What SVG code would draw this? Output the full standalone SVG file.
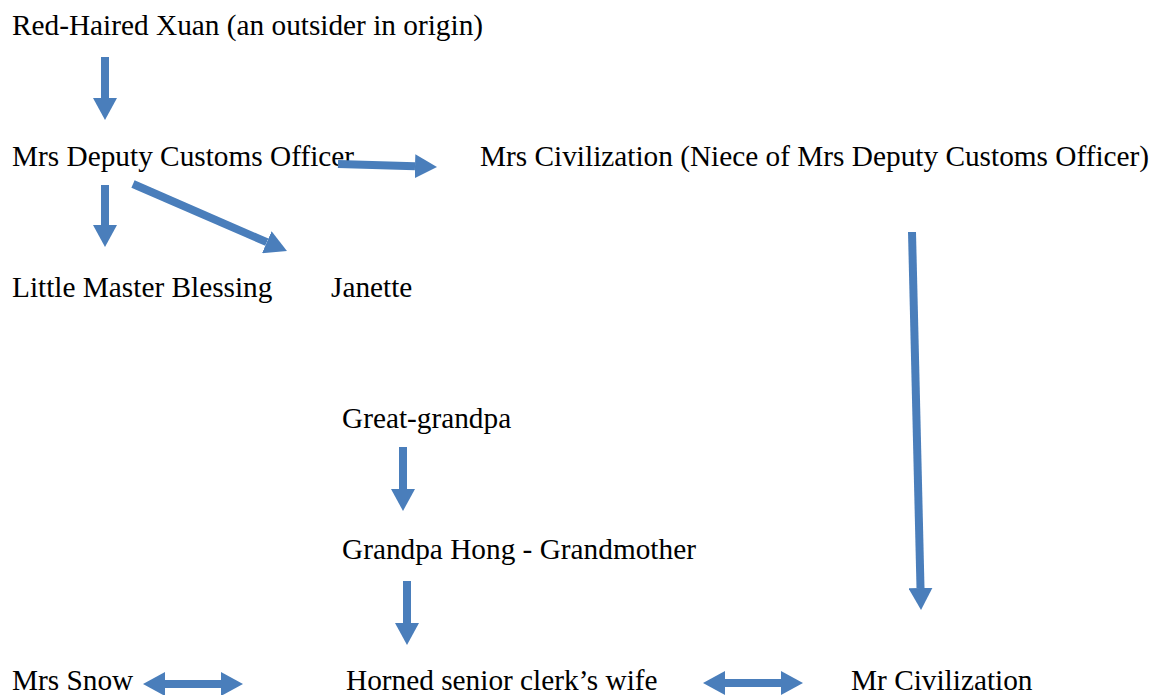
<svg xmlns="http://www.w3.org/2000/svg" width="1157" height="695" viewBox="0 0 1157 695">
<style>
text{font-family:"Liberation Serif","Times New Roman",serif;font-size:29.3px;fill:#000}
.c{stroke:#4a7ebb;stroke-width:8;fill:none}
</style>
<defs>
<marker id="ah" markerUnits="userSpaceOnUse" markerWidth="22" markerHeight="24" viewBox="0 0 22 24" refX="0" refY="12" orient="auto-start-reverse"><path d="M0,0 L22,12 L0,24 z" fill="#4a7ebb"/></marker>
</defs>
<rect width="1157" height="695" fill="#fff"/>
<g id="n-xuan"><text x="12" y="34.5">Red-Haired Xuan (an outsider in origin)</text></g>
<g id="n-deputy"><text x="12" y="165.5">Mrs Deputy Customs Officer</text></g>
<g id="n-civ"><text x="480" y="165.5">Mrs Civilization (Niece of Mrs Deputy Customs Officer)</text></g>
<g id="n-blessing"><text x="12" y="296.5">Little Master Blessing</text></g>
<g id="n-janette"><text x="331" y="296.5">Janette</text></g>
<g id="n-great"><text x="342" y="427.5">Great-grandpa</text></g>
<g id="n-hong"><text x="342" y="558.5">Grandpa Hong - Grandmother</text></g>
<g id="n-snow"><text x="12" y="689.5">Mrs Snow</text></g>
<g id="n-horned"><text x="346" y="689.5">Horned senior clerk’s wife</text></g>
<g id="n-mrciv"><text x="851" y="689.5">Mr Civilization</text></g>
<g id="connectors">
<line class="c" x1="105" y1="57" x2="105" y2="98" marker-end="url(#ah)"/>
<line class="c" x1="338" y1="164" x2="415" y2="166.3" marker-end="url(#ah)"/>
<line class="c" x1="105" y1="185" x2="105" y2="225" marker-end="url(#ah)"/>
<line class="c" x1="133" y1="184" x2="266.8" y2="242.2" marker-end="url(#ah)"/>
<line class="c" x1="912" y1="232" x2="920.5" y2="588" marker-end="url(#ah)"/>
<line class="c" x1="403" y1="447" x2="403" y2="489" marker-end="url(#ah)"/>
<line class="c" x1="407" y1="581" x2="407" y2="623" marker-end="url(#ah)"/>
<line class="c" x1="165" y1="684" x2="221" y2="684" marker-start="url(#ah)" marker-end="url(#ah)"/>
<line class="c" x1="725" y1="683" x2="781" y2="683" marker-start="url(#ah)" marker-end="url(#ah)"/>
</g>
</svg>
